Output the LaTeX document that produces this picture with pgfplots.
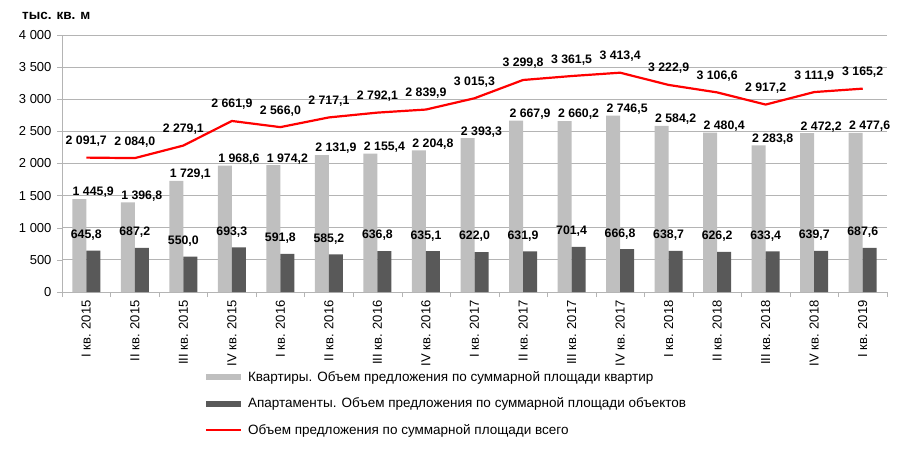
\documentclass[border=0pt]{standalone}
\usepackage{pgfplots}
\pgfplotsset{compat=1.18}
\usepackage{fontspec}
\setmainfont{Liberation Sans}
\definecolor{lightbar}{RGB}{191,191,191}
\definecolor{darkbar}{RGB}{89,89,89}
\definecolor{gridc}{RGB}{180,180,180}
\begin{document}
\begin{tikzpicture}
\path[use as bounding box] (0pt,0pt) rectangle (900pt,453pt);
\node[anchor=base west, font=\bfseries\fontsize{13.5}{15}\selectfont, inner sep=0pt] at (22pt,433pt) {тыс. кв. м};
\begin{axis}[
  at={(62pt,161pt)}, anchor=south west,
  scale only axis, width=825pt, height=257pt,
  xmin=-0.5, xmax=16.5, ymin=0, ymax=4000,
  /pgf/number format/assume math mode=true,
  /pgf/number format/use comma,
  /pgf/number format/1000 sep={\ },
  ytick={0,500,...,4000},
  xtick={0,...,16},
  xticklabels={I кв. 2015, II кв. 2015, III кв. 2015, IV кв. 2015,
    I кв. 2016, II кв. 2016, III кв. 2016, IV кв. 2016,
    I кв. 2017, II кв. 2017, III кв. 2017, IV кв. 2017,
    I кв. 2018, II кв. 2018, III кв. 2018, IV кв. 2018, I кв. 2019},
  minor xtick={-0.5,0.5,...,16.5},
  x tick label style={rotate=90, anchor=east, font=\fontsize{13}{15}\selectfont},
  y tick label style={font=\fontsize{13}{15}\selectfont, xshift=-2pt},
  axis lines=left,
  axis line style={draw=gridc, -},
  tick align=outside,
  tick pos=left,
  major x tick style={draw=none},
  major tick length=5pt,
  minor tick length=5pt,
  every tick/.style={draw=gridc},
  minor tick style={draw=gridc},
  ymajorgrids,
  grid style={draw=gridc, line width=0.8pt},
  legend style={at={(0.1733,-0.30)}, anchor=north west, draw=none, fill=none,
    font=\fontsize{13.5}{15}\selectfont, row sep=11pt, inner sep=0pt},
  legend cell align=left,
]
\addplot[ybar, bar width=14pt, bar shift=-7pt, fill=lightbar, draw=none,
  legend image code/.code={\fill[lightbar] (0pt,-3pt) rectangle (35pt,3pt); \path (39pt,0pt);},
  nodes near coords={\pgfmathprintnumber[fixed,fixed zerofill,precision=1]{\pgfplotspointmeta}},
  every node near coord/.style={font=\bfseries\fontsize{12.3}{14}\selectfont, anchor=south, inner sep=0pt, xshift=7pt, yshift=1pt, text=black}]
coordinates {(0,1445.9) (1,1396.8) (2,1729.1) (3,1968.6) (4,1974.2) (5,2131.9) (6,2155.4) (7,2204.8) (8,2393.3) (9,2667.9) (10,2660.2) (11,2746.5) (12,2584.2) (13,2480.4) (14,2283.8) (15,2472.2) (16,2477.6)};
\addlegendentry{Квартиры. Объем предложения по суммарной площади квартир}
\addplot[ybar, bar width=14pt, bar shift=7pt, fill=darkbar, draw=none,
  legend image code/.code={\fill[darkbar] (0pt,-3pt) rectangle (35pt,3pt); \path (39pt,0pt);},
  nodes near coords={\pgfmathprintnumber[fixed,fixed zerofill,precision=1]{\pgfplotspointmeta}},
  every node near coord/.style={font=\bfseries\fontsize{12.3}{14}\selectfont, anchor=south, inner sep=0pt, yshift=10pt, text=black}]
coordinates {(0,645.8) (1,687.2) (2,550.0) (3,693.3) (4,591.8) (5,585.2) (6,636.8) (7,635.1) (8,622.0) (9,631.9) (10,701.4) (11,666.8) (12,638.7) (13,626.2) (14,633.4) (15,639.7) (16,687.6)};
\addlegendentry{Апартаменты. Объем предложения по суммарной площади объектов}
\addplot[red, line width=2.2pt, mark=none,
  legend image code/.code={\draw[red, line width=1.6pt] (0pt,0pt) -- (35pt,0pt); \path (39pt,0pt);},
  nodes near coords={\pgfmathprintnumber[fixed,fixed zerofill,precision=1]{\pgfplotspointmeta}},
  every node near coord/.style={font=\bfseries\fontsize{12.3}{14}\selectfont, anchor=south, inner sep=0pt, yshift=10pt, text=black}]
coordinates {(0,2091.7) (1,2084.0) (2,2279.1) (3,2661.9) (4,2566.0) (5,2717.1) (6,2792.1) (7,2839.9) (8,3015.3) (9,3299.8) (10,3361.5) (11,3413.4) (12,3222.9) (13,3106.6) (14,2917.2) (15,3111.9) (16,3165.2)};
\addlegendentry{Объем предложения по суммарной площади всего}
\end{axis}
\end{tikzpicture}
\end{document}
